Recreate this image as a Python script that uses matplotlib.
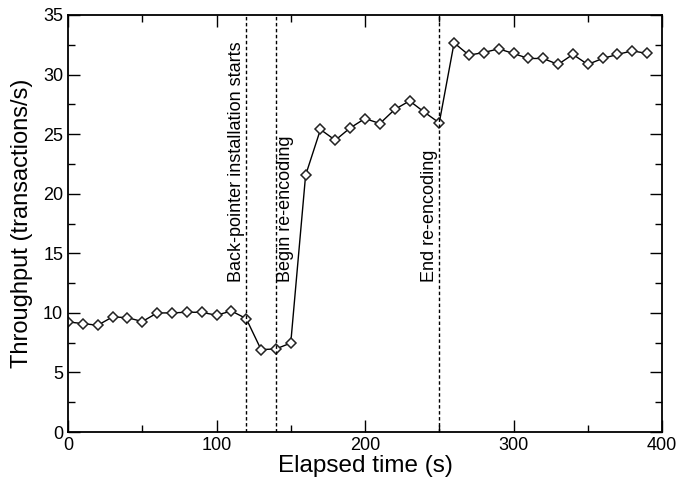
import matplotlib
matplotlib.use("Agg")
import matplotlib.pyplot as plt
from matplotlib.ticker import MultipleLocator

plt.rcParams['font.family'] = ['Liberation Sans', 'DejaVu Sans']

elapsed = list(range(0, 400, 10))
throughput = [9.24, 9.1, 8.96, 9.66, 9.6, 9.27, 9.99, 10.0, 10.05, 10.05,
              9.8, 10.16, 9.52, 6.92, 6.97, 7.47, 21.55, 25.39, 24.49, 25.52,
              26.31, 25.89, 27.07, 27.79, 26.84, 25.95, 32.66, 31.63, 31.85, 32.16,
              31.77, 31.35, 31.35, 30.85, 31.69, 30.85, 31.35, 31.69, 31.99, 31.77]

events = [120, 140, 250]
event_labels = ["Back-pointer installation starts", "Begin re-encoding", "End re-encoding"]
label_x = [119, 141, 249]
label_ha = ["right", "left", "right"]

fig = plt.figure(figsize=(6.78, 4.82), dpi=100)
ax = fig.add_axes([0.1003, 0.1037, 0.8761, 0.8652])

ax.plot(elapsed, throughput, color='black', lw=1.0, marker='D', markersize=5,
        markerfacecolor='white', markeredgecolor='#222222', markeredgewidth=1.1)

for xv, lab, lx, ha in zip(events, event_labels, label_x, label_ha):
    ax.axvline(xv, color='black', lw=1.0, ls=(0, (2.5, 1.8)))
    ax.text(lx, 12.6, lab, rotation=90, ha=ha, va='bottom', fontsize=13)

ax.set_xlim(0, 400)
ax.set_ylim(0, 35)
ax.xaxis.set_major_locator(MultipleLocator(100))
ax.xaxis.set_minor_locator(MultipleLocator(50))
ax.yaxis.set_major_locator(MultipleLocator(5))
ax.yaxis.set_minor_locator(MultipleLocator(2.5))
ax.tick_params(which='both', direction='in', top=True, right=True, labelsize=13)
ax.tick_params(which='major', length=8.5, width=1)
ax.tick_params(which='minor', length=5, width=1)
for s in ax.spines.values():
    s.set_linewidth(1.3)

ax.set_xlabel("Elapsed time (s)", fontsize=17.5, labelpad=1)
ax.set_ylabel("Throughput (transactions/s)", fontsize=17, labelpad=7)

fig.savefig("out.png", dpi=100)
